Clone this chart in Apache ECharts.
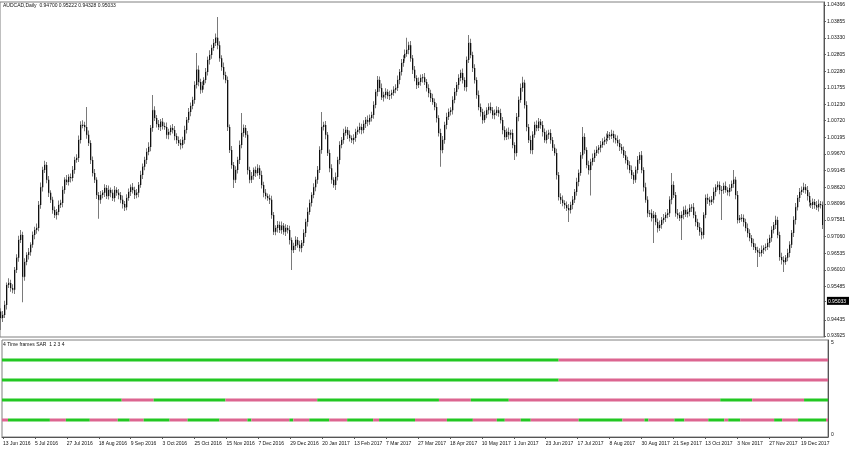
<!DOCTYPE html>
<html><head><meta charset="utf-8">
<script src="https://cdn.jsdelivr.net/npm/echarts@6/dist/echarts.min.js"></script>
<style>html,body{margin:0;padding:0;background:#fff}#c{width:852px;height:451px}</style>
</head><body><div id="c"></div>
<script>
const symbolTitle = 'AUDCAD,Daily  0.94700 0.95222 0.94328 0.95033';
const indicatorTitle = '4 Time frames SAR  1 2 3 4';
const firstOpen = 0.9470;
const closes = [
0.9449,0.9459,0.9490,0.9553,0.9560,0.9544,0.9538,0.9601,0.9639,0.9695,
0.9711,0.9579,0.9626,0.9648,0.9657,0.9680,0.9711,0.9727,0.9733,0.9806,
0.9862,0.9916,0.9932,0.9885,0.9844,0.9822,0.9790,0.9774,0.9784,0.9806,
0.9812,0.9853,0.9885,0.9878,0.9894,0.9891,0.9916,0.9948,0.9954,1.0011,
1.0058,1.0058,1.0052,1.0027,1.0001,0.9948,0.9907,0.9885,0.9837,0.9822,
0.9837,0.9844,0.9859,0.9834,0.9853,0.9844,0.9828,0.9853,0.9844,0.9837,
0.9822,0.9809,0.9799,0.9828,0.9847,0.9862,0.9853,0.9837,0.9844,0.9869,
0.9900,0.9926,0.9948,0.9973,0.9989,1.0049,1.0105,1.0080,1.0061,1.0052,
1.0068,1.0055,1.0052,1.0027,1.0036,1.0049,1.0042,1.0023,1.0011,1.0001,
0.9995,1.0011,1.0042,1.0074,1.0099,1.0118,1.0137,1.0184,1.0232,1.0194,
1.0169,1.0184,1.0200,1.0225,1.0263,1.0279,1.0301,1.0317,1.0333,1.0310,
1.0269,1.0241,1.0216,1.0200,1.0052,0.9979,0.9932,0.9885,0.9916,0.9948,
0.9995,1.0033,1.0049,1.0027,0.9916,0.9885,0.9897,0.9916,0.9907,0.9922,
0.9900,0.9869,0.9844,0.9834,0.9828,0.9822,0.9774,0.9721,0.9733,0.9743,
0.9727,0.9740,0.9721,0.9733,0.9727,0.9695,0.9664,0.9676,0.9695,0.9680,
0.9670,0.9686,0.9717,0.9752,0.9784,0.9812,0.9837,0.9862,0.9885,0.9916,
0.9979,1.0052,1.0058,1.0027,0.9970,0.9922,0.9885,0.9869,0.9894,0.9948,
0.9995,1.0011,1.0033,1.0042,1.0027,1.0017,1.0011,1.0017,1.0036,1.0042,
1.0052,1.0042,1.0061,1.0074,1.0068,1.0080,1.0090,1.0121,1.0162,1.0200,
1.0175,1.0146,1.0153,1.0162,1.0150,1.0153,1.0159,1.0169,1.0175,1.0200,
1.0225,1.0254,1.0269,1.0282,1.0295,1.0310,1.0269,1.0232,1.0206,1.0184,
1.0194,1.0206,1.0209,1.0194,1.0175,1.0159,1.0143,1.0131,1.0115,1.0080,
1.0033,0.9979,1.0011,1.0058,1.0083,1.0099,1.0105,1.0137,1.0162,1.0184,
1.0206,1.0222,1.0200,1.0178,1.0263,1.0317,1.0279,1.0238,1.0200,1.0153,
1.0115,1.0099,1.0074,1.0090,1.0105,1.0115,1.0105,1.0090,1.0096,1.0105,
1.0096,1.0074,1.0042,1.0020,1.0036,1.0027,1.0033,0.9995,0.9970,1.0083,
1.0137,1.0175,1.0191,1.0121,1.0052,1.0011,0.9979,1.0027,1.0058,1.0049,
1.0068,1.0058,1.0036,1.0011,1.0027,1.0033,1.0011,0.9986,0.9970,0.9900,
0.9831,0.9822,0.9812,0.9806,0.9796,0.9790,0.9806,0.9822,0.9847,0.9878,
0.9907,0.9963,1.0020,0.9979,0.9932,0.9916,0.9941,0.9954,0.9970,0.9979,
0.9986,0.9995,1.0005,1.0011,1.0017,1.0027,1.0023,1.0030,1.0017,1.0011,
1.0001,0.9989,0.9979,0.9963,0.9948,0.9932,0.9916,0.9900,0.9885,0.9916,
0.9948,0.9963,0.9916,0.9862,0.9822,0.9780,0.9780,0.9765,0.9774,0.9752,
0.9733,0.9743,0.9758,0.9765,0.9774,0.9780,0.9822,0.9869,0.9837,0.9780,
0.9774,0.9765,0.9774,0.9790,0.9777,0.9784,0.9796,0.9799,0.9774,0.9752,
0.9736,0.9721,0.9711,0.9774,0.9828,0.9822,0.9815,0.9822,0.9847,0.9862,
0.9869,0.9853,0.9853,0.9866,0.9853,0.9847,0.9859,0.9872,0.9885,0.9837,
0.9758,0.9765,0.9765,0.9752,0.9733,0.9717,0.9702,0.9686,0.9673,0.9664,
0.9657,0.9654,0.9664,0.9670,0.9673,0.9686,0.9702,0.9727,0.9743,0.9758,
0.9711,0.9642,0.9632,0.9626,0.9639,0.9654,0.9680,0.9717,0.9758,0.9799,
0.9828,0.9847,0.9853,0.9862,0.9853,0.9834,0.9812,0.9806,0.9815,0.9806,
0.9799,0.9809,0.9806,0.9743];
// upper / lower wick beyond the open-close range, in pips
const hiExt = [
10,12,14,8,15,10,12,9,11,14, 16,10,12,9,13,8,11,10,14,12, 15,10,13,9,12,8,10,11,9,14,
10,12,8,15,9,11,13,10,12,14, 12,15,10,63,14,9,11,12,8,10, 13,9,12,10,14,8,11,13,9,12,
10,14,9,12,11,8,13,10,12,9, 14,11,10,12,15,9,48,12,10,13, 9,12,11,14,10,8,12,13,9,11,
12,10,14,9,13,11,10,12,53,14, 10,12,9,13,11,15,10,12,14,66, 12,9,14,10,11,8,13,9,12,10,
14,63,11,9,12,10,13,8,11,12, 9,14,10,12,8,11,13,10,9,12, 11,14,9,12,10,13,8,11,12,10,
13,9,12,10,14,11,9,12,10,13, 12,47,10,13,9,11,12,8,14,10, 12,9,13,11,10,14,8,12,10,11,
13,10,12,9,14,11,10,12,9,13, 11,14,10,12,9,13,10,11,12,14, 10,12,9,14,38,11,13,10,12,9,
14,11,10,13,9,12,10,14,11,12, 9,13,12,10,14,11,9,12,13,10, 12,10,14,9,11,25,13,10,12,9,
14,11,10,13,9,12,14,10,11,12, 10,13,9,12,11,14,10,12,9,13, 11,14,19,10,12,9,13,11,10,14,
12,9,13,11,14,10,12,9,11,13, 10,12,14,9,11,13,10,12,9,14, 11,10,32,12,9,13,11,14,10,12,
9,13,11,10,14,12,9,13,10,11, 14,12,9,11,13,10,12,14,9,11, 12,10,13,9,14,11,10,12,13,9,
11,14,10,12,9,13,11,38,12,10, 13,9,12,11,14,10,12,9,13,11, 10,14,12,9,11,13,10,12,14,9,
12,11,13,10,14,9,12,11,31,10, 13,9,12,11,10,14,12,9,13,11, 10,12,14,9,11,13,10,12,9,14,
11,10,13,12,9,14,11,10,12,13, 9,12,11,14,10,13,12,9,11,10, 12,14,9,11];
const loExt = [
38,12,10,14,9,12,11,13,10,12, 9,80,12,10,14,11,9,13,12,10, 12,14,9,11,13,10,12,9,14,11,
10,13,12,9,11,14,10,12,9,13, 11,10,14,12,9,13,11,10,12,60, 12,10,13,9,11,14,10,12,9,13,
11,14,12,10,9,13,11,12,10,14, 9,12,11,13,10,14,12,9,11,10, 13,11,9,12,14,10,11,13,12,9,
14,10,12,11,9,13,10,12,11,14, 12,9,13,10,11,14,12,9,10,13, 11,12,14,10,13,9,12,26,10,11,
13,10,12,9,14,11,10,12,13,9, 12,11,14,10,9,13,12,10,11,14, 10,12,9,13,11,14,63,10,12,9,
11,13,10,12,14,9,11,10,13,12, 9,12,11,14,10,13,12,9,16,11, 14,10,12,9,13,11,10,14,12,9,
11,13,10,12,14,9,11,12,10,13, 12,9,14,11,10,13,12,9,11,10, 13,11,12,10,9,14,11,13,10,12,
9,12,14,10,11,13,12,9,10,14, 11,53,10,12,13,9,11,14,10,12, 13,10,11,12,14,9,10,13,11,12,
10,14,12,9,11,13,10,12,14,9, 12,11,13,10,9,14,12,10,22,11, 13,9,12,11,14,10,12,13,9,11,
10,12,14,9,11,13,12,10,9,14, 11,13,10,12,9,38,11,14,10,12, 13,9,11,12,10,14,80,11,13,10,
12,14,9,11,13,10,12,9,14,11, 10,13,12,9,11,14,10,12,13,9, 11,12,10,14,9,13,12,11,79,10,
14,9,12,11,13,10,12,14,9,11, 12,10,70,13,9,11,14,12,10,13, 9,12,14,11,10,13,12,9,11,14,
10,13,95,12,9,11,14,10,12,13, 11,9,12,14,10,13,11,12,9,10, 47,12,11,13,10,9,14,12,11,13,
10,12,14,32,9,11,13,10,12,14, 11,13,10,9,12,14,11,10,13,12, 9,14,11,13];
const priceTicks = [1.04366,1.03855,1.03330,1.02805,1.02280,1.01755,1.01230,1.00720,1.00195,
  0.99670,0.99145,0.98620,0.98096,0.97581,0.97060,0.96535,0.96010,0.95485,0.94435,0.93925];
const currentPrice = 0.95033;
const dateTicks = ['13 Jun 2016','5 Jul 2016','27 Jul 2016','18 Aug 2016','9 Sep 2016','3 Oct 2016',
  '25 Oct 2016','15 Nov 2016','7 Dec 2016','29 Dec 2016','20 Jan 2017','13 Feb 2017','7 Mar 2017',
  '27 Mar 2017','18 Apr 2017','10 May 2017','1 Jun 2017','23 Jun 2017','17 Jul 2017','8 Aug 2017',
  '30 Aug 2017','21 Sep 2017','13 Oct 2017','3 Nov 2017','27 Nov 2017','19 Dec 2017'];
const barsPerDateTick = 16;
// SAR state runs: start bar index of each run, colours alternate from the first
const sarLevels = [4, 3, 2, 1];
const sarFirstUp = [true, true, true, false];
const sarRunStarts = [
  [0, 279],
  [0, 279],
  [0, 60, 76, 112, 158, 219, 235, 254, 360, 376, 402],
  [0, 3, 24, 32, 44, 58, 64, 71, 84, 93, 109, 123, 125, 144, 146, 154, 164, 173, 186, 189, 207,
   223, 236, 248, 252, 260, 265, 289, 311, 322, 324, 337, 342, 354, 362, 364, 370, 387, 391, 399, 413]
];
const sarAxisTicks = [0, 5];

const N = closes.length;
const cats = closes.map((_, i) => String(i));
const ohlc = closes.map((c, i) => {
  const o = i === 0 ? firstOpen : closes[i - 1];
  const h = Math.max(o, c) + hiExt[i] / 10000;
  const l = Math.min(o, c) - loExt[i] / 10000;
  return [i, o, c, l, h];
});
const GREEN = '#22c722', PINK = '#dc6590';
// runs: [startIndex, endIndex, level, up(1/0)]
const sarRuns = [];
sarLevels.forEach((lvl, k) => {
  const s = sarRunStarts[k];
  s.forEach((st, r) => {
    const en = r + 1 < s.length ? s[r + 1] - 1 : N - 1;
    const up = (r % 2 === 0) === sarFirstUp[k];
    sarRuns.push([st, en, lvl, up ? 1 : 0]);
  });
});

const font = 'Liberation Sans, Arial, sans-serif';
const chart = echarts.init(document.getElementById('c'), null, { renderer: 'canvas' });
const pMin = 0.93893, pMax = 1.04461;
const sarMin = 0.125, sarMax = 4.975;
chart.setOption({
  animation: false,
  backgroundColor: '#fff',
  grid: [
    { left: 0, top: 2, width: 828, height: 335, show: true, borderColor: '#808080', borderWidth: 1 },
    { left: 0, top: 340, width: 828, height: 97, show: true, borderColor: '#808080', borderWidth: 1 }
  ],
  xAxis: [
    { type: 'category', gridIndex: 0, data: cats, boundaryGap: true, show: false },
    { type: 'category', gridIndex: 1, data: cats, boundaryGap: true,
      axisLine: { show: true, lineStyle: { color: '#555', width: 1 } },
      axisTick: { show: true, alignWithLabel: true, length: 2, interval: (i) => i % barsPerDateTick === 0,
        lineStyle: { color: '#555' } },
      axisLabel: { show: true, interval: (i) => i % barsPerDateTick === 0, align: 'left', margin: 4,
        fontSize: 5, fontFamily: font, color: '#111',
        formatter: (v, idx) => dateTicks[Math.round(idx / barsPerDateTick)] || '' },
      splitLine: { show: false } }
  ],
  yAxis: [
    { type: 'value', gridIndex: 0, position: 'right', min: pMin, max: pMax, scale: true,
      axisLine: { show: true, lineStyle: { color: '#555' } },
      axisTick: { show: true, length: 2, customValues: priceTicks.concat([currentPrice]), lineStyle: { color: '#555' } },
      axisLabel: { show: true, customValues: priceTicks.concat([currentPrice]), margin: 3, fontSize: 5,
        fontFamily: font, color: '#111',
        formatter: (v) => Math.abs(v - currentPrice) < 1e-6 ? '{cur|' + v.toFixed(5) + '}' : v.toFixed(5),
        rich: { cur: { backgroundColor: '#000', color: '#fff', fontSize: 5, fontFamily: font, padding: [2, 3, 1, 1] } } },
      splitLine: { show: false } },
    { type: 'value', gridIndex: 1, position: 'right', min: sarMin, max: sarMax,
      axisLine: { show: true, lineStyle: { color: '#555' } },
      axisTick: { show: false },
      axisLabel: { show: true, customValues: [sarMin, sarMax], margin: 3, fontSize: 5, fontFamily: font, color: '#111',
        verticalAlignMinLabel: 'bottom', verticalAlignMaxLabel: 'top',
        formatter: (v) => String(v < 1 ? sarAxisTicks[0] : sarAxisTicks[1]) },
      splitLine: { show: false } }
  ],
  graphic: [
    { type: 'text', left: 3, top: 3, style: { text: symbolTitle, fontSize: 5, fontFamily: font, fill: '#111' } },
    { type: 'text', left: 3, top: 342, style: { text: indicatorTitle, fontSize: 5, fontFamily: font, fill: '#111' } }
  ],
  series: [
    {
      type: 'custom', xAxisIndex: 0, yAxisIndex: 0, data: ohlc, silent: true,
      encode: { x: 0, y: [1, 2, 3, 4] },
      renderItem: (params, api) => {
        const i = api.value(0);
        const pO = api.coord([i, api.value(1)]);
        const pC = api.coord([i, api.value(2)]);
        const pL = api.coord([i, api.value(3)]);
        const pH = api.coord([i, api.value(4)]);
        const x = Math.floor(pH[0]);
        const top = Math.min(pO[1], pC[1]);
        const bh = Math.max(1, Math.abs(pO[1] - pC[1]));
        return { type: 'group', children: [
          { type: 'rect', shape: { x: x, y: pH[1], width: 1, height: pL[1] - pH[1] }, style: { fill: '#7a7a7a' } },
          { type: 'rect', shape: { x: x + 1, y: top, width: 1, height: bh }, style: { fill: '#b4b4b4' } },
          { type: 'rect', shape: { x: x - 1, y: pO[1] - 0.5, width: 1, height: 1 }, style: { fill: '#a8a8a8' } },
          { type: 'rect', shape: { x: x, y: top, width: 1, height: bh }, style: { fill: '#111' } }
        ] };
      }
    },
    {
      type: 'custom', xAxisIndex: 1, yAxisIndex: 1, data: sarRuns, silent: true,
      encode: { x: [0, 1], y: 2 },
      renderItem: (params, api) => {
        const a = api.coord([api.value(0), api.value(2)]);
        const b = api.coord([api.value(1), api.value(2)]);
        const bw = api.size([1, 0])[0];
        return { type: 'rect',
          shape: { x: a[0] - bw / 2, y: Math.round(a[1]) - 1.5, width: b[0] - a[0] + bw, height: 3 },
          style: { fill: api.value(3) ? GREEN : PINK } };
      }
    }
  ]
});
</script></body></html>
